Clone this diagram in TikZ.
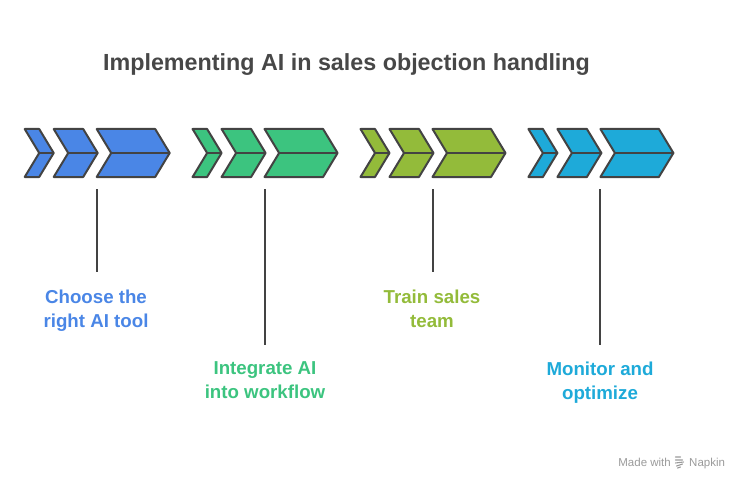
\documentclass[tikz,border=0pt]{standalone}
\usepackage{fontspec}
\setmainfont{Liberation Sans}
\usetikzlibrary{calc}
\definecolor{cblue}{HTML}{4A86E6}
\definecolor{cgreen}{HTML}{3CC47F}
\definecolor{colive}{HTML}{93BB3A}
\definecolor{ccyan}{HTML}{1EAAD9}
\definecolor{outl}{HTML}{434343}
\definecolor{ttl}{HTML}{474747}
\definecolor{wm}{HTML}{9A9A9A}
\tikzset{
  chev/.style={draw=outl, line width=2pt, line join=round},
  stem/.style={draw=outl, line width=2pt},
  lbl/.style={font=\bfseries\fontsize{18.7}{24}\selectfont, align=center, inner sep=0pt},
  wmtext/.style={font=\fontsize{11.5}{12}\selectfont, text=wm, inner sep=0pt},
}
\newcommand\onechev[4]{% color, offset, L, R
  \filldraw[chev, fill=#1] ({#2+#3},129) -- ({#2+#4},129) -- ({#2+#4+14.5},153) -- ({#2+#4},177) -- ({#2+#3},177) -- ({#2+#3+14.5},153) -- cycle;
  \draw[chev] ({#2+#3+14.5},153) -- ({#2+#4+14.5},153);
}
\newcommand\chevgroup[2]{% color, offset
  \onechev{#1}{#2}{0}{14.5}
  \onechev{#1}{#2}{29}{58.5}
  \onechev{#1}{#2}{72}{130.5}
}
\begin{document}
\begin{tikzpicture}[x=1pt,y=-1pt]
\useasboundingbox (0,0) rectangle (751,489);
\node[font=\bfseries\fontsize{23.3}{26}\selectfont, text=ttl, anchor=base, inner sep=0pt] (title) at (346.5,71) {Implementing AI in sales objection handling};
\chevgroup{cblue}{24.7}
\chevgroup{cgreen}{192.6}
\chevgroup{colive}{360.5}
\chevgroup{ccyan}{528.4}
\coordinate (s1) at (97,189);
\coordinate (s2) at (265,189);
\coordinate (s3) at (433,189);
\coordinate (s4) at (600,189);
\coordinate (e1) at (97,272);
\coordinate (e2) at (265,345);
\coordinate (e3) at (433,272);
\coordinate (e4) at (600,345);
\draw[stem] (s1) -- (e1);
\draw[stem] (s2) -- (e2);
\draw[stem] (s3) -- (e3);
\draw[stem] (s4) -- (e4);
\node[lbl, text=cblue, anchor=north] (l1) at (96,289.5) {Choose the\\right AI tool};
\node[lbl, text=cgreen, anchor=north] (l2) at (265,361.5) {Integrate AI\\into workflow};
\node[lbl, text=colive, anchor=north] (l3) at (432,289.5) {Train sales\\team};
\node[lbl, text=ccyan, anchor=north] (l4) at (600,361.5) {Monitor and\\optimize};
\node[wmtext, anchor=base east] (mw) at (671,466) {Made with};
\node[wmtext, anchor=base west] (nap) at (689,466) {Napkin};
\coordinate (ic) at (679.5,462);
\draw[wm, line width=1.1pt, line cap=round]
  ($(ic)+(-4,-5)$) -- ($(ic)+(1,-5)$)
  ($(ic)+(-4,-2)$) -- ($(ic)+(3,-2)$)
  ($(ic)+(-4,1)$) -- ($(ic)+(4,0)$)
  ($(ic)+(-3,4)$) -- ($(ic)+(3,2)$)
  ($(ic)+(-2,6)$) -- ($(ic)+(1,5)$);
\end{tikzpicture}
\end{document}
